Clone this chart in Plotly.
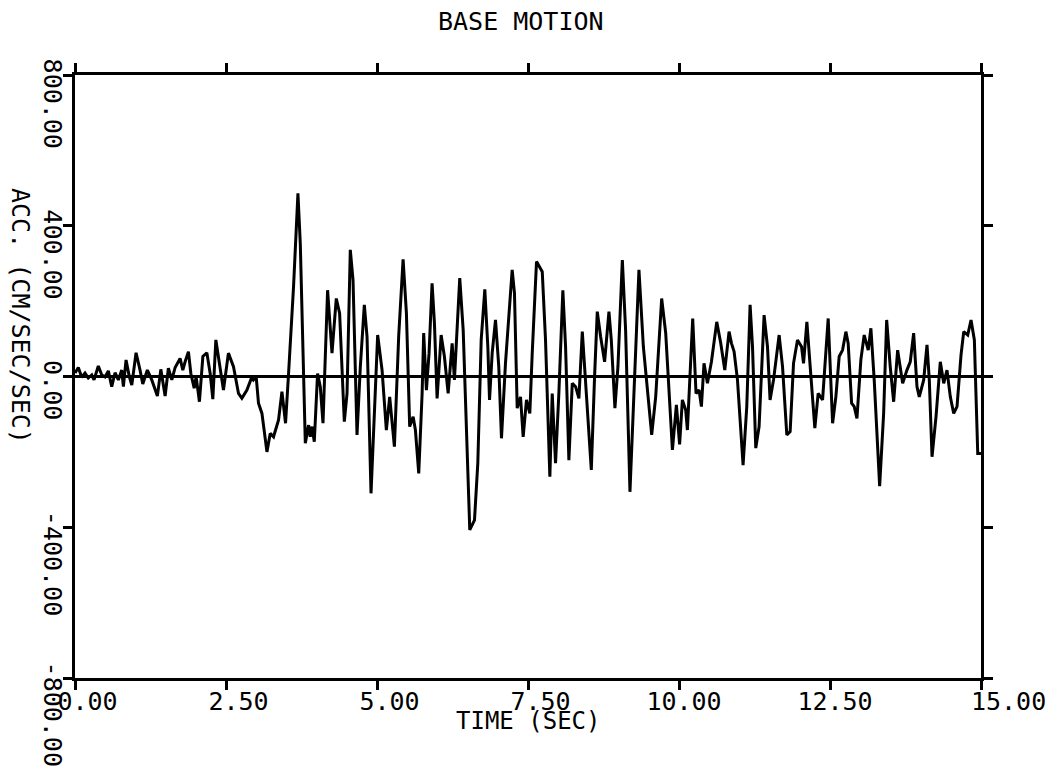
import plotly.graph_objects as go

# ---- data (time in s, acceleration in cm/s^2) ----
time_s = [
    0.000, 0.055, 0.111, 0.166, 0.220, 0.277, 0.315, 0.386, 0.443, 0.497,
    0.552, 0.608, 0.663, 0.718, 0.774, 0.801, 0.845, 0.900, 0.940, 1.011,
    1.077, 1.122, 1.198, 1.271, 1.364, 1.421, 1.492, 1.546, 1.603, 1.658,
    1.740, 1.785, 1.823, 1.878, 1.918, 1.973, 2.006, 2.060, 2.117, 2.183,
    2.238, 2.282, 2.332, 2.392, 2.458,
    2.540, 2.624, 2.707, 2.763, 2.846, 2.929, 2.955, 3.000, 3.038, 3.095,
    3.178, 3.232, 3.287, 3.332, 3.370, 3.426, 3.486, 3.536, 3.618, 3.691,
    3.730, 3.813, 3.867, 3.895, 3.924, 3.962, 4.016, 4.061, 4.106, 4.182,
    4.255, 4.326, 4.381, 4.459, 4.504, 4.558, 4.603, 4.669, 4.724, 4.790,
    4.835, 4.901, 4.956,
    5.011, 5.084, 5.155, 5.210, 5.288, 5.359, 5.432, 5.487, 5.541, 5.598,
    5.636, 5.691, 5.747, 5.773, 5.818, 5.862, 5.912, 5.951, 5.995, 6.062,
    6.116, 6.178, 6.244, 6.282, 6.370, 6.427, 6.493, 6.536, 6.614, 6.669,
    6.725, 6.785, 6.835, 6.863, 6.907, 6.962, 7.016, 7.061, 7.127, 7.238,
    7.276, 7.321, 7.376, 7.420, 7.475,
    7.530, 7.570, 7.641, 7.736, 7.790, 7.862, 7.901, 7.956, 8.011, 8.077,
    8.122, 8.177, 8.233, 8.288, 8.343, 8.399, 8.454, 8.548, 8.602, 8.647,
    8.702, 8.768, 8.840, 8.879, 8.939, 8.989, 9.062, 9.116, 9.188, 9.254,
    9.337, 9.410, 9.476, 9.548, 9.614, 9.713, 9.780, 9.834, 9.891, 9.957,
    10.010, 10.056, 10.111, 10.139, 10.182, 10.227, 10.282, 10.332, 10.371, 10.414,
    10.471, 10.537, 10.625, 10.691, 10.758, 10.829, 10.869, 10.912, 10.968, 11.061,
    11.122, 11.177, 11.217, 11.271, 11.326, 11.409, 11.465, 11.508, 11.565, 11.658,
    11.714, 11.785, 11.840, 11.896, 11.962, 12.029, 12.062, 12.117, 12.172, 12.249,
    12.304, 12.377,
    12.470, 12.543, 12.597, 12.652, 12.708, 12.763, 12.801, 12.858, 12.901, 12.946,
    13.011, 13.066, 13.133, 13.177, 13.232, 13.322, 13.388, 13.438, 13.497, 13.554,
    13.620, 13.663, 13.703, 13.774, 13.829, 13.885, 13.940, 13.978, 14.051, 14.106,
    14.144, 14.189, 14.255, 14.326, 14.383, 14.437, 14.492, 14.548, 14.603, 14.669,
    14.714, 14.780, 14.835, 14.890, 14.946, 15.000,
]
accel = [
    9, 24, -2, 9, -4, 4, -9, 28, 4, -1,
    15, -27, 10, -9, 17, -27, 44, -1, -23, 63,
    17, -20, 17, -9, -52, 19, -52, 22, -9, 24,
    48, 17, 39, 66, 8, -31, -1, -67, 53, 63,
    8, -60, 97, 35, -36,
    62, 26, -45, -58, -36, -1, -9, -1, -71, -98,
    -200, -151, -160, -133, -115, -40, -124, 8, 238, 486,
    353, -177, -129, -160, -133, -173, 8, -27, -124, 229,
    62, 207, 168, -120, -45, 336, 256, -155, 26, 190,
    106, -310, -98,
    110, 17, -142, -54, -186, 106, 311, 168, -133, -107,
    -142, -257, -45, 115, -36, 62, 247, 141, -58, 110,
    53, -45, 88, -9, 261, 123, -230, -407, -381, -230,
    97, 231, 79, -62, 62, 150, 26, -164, 35, 283,
    221, -84, -54, -160, -62,
    -98, 62, 305, 278, 97, -266, -45, -230, -45, 229,
    79, -222, -18, -27, -58, 119, -9, -248, -1, 172,
    106, 39, 172, 97, -84, 26, 309, 123, -306, -45,
    283, 79, -27, -155, -54, 207, 115, -54, -195, -75,
    -180, -62, -89, -142, 26, 154, -45, -36, -80, 35,
    -18, 39, 145, 88, 17, 119, 88, 66, -9, -235,
    -80, 190, 79, -190, -133, 163, 79, -62, -9, 110,
    26, -155, -146, 35, 97, 79, 35, 145, 26, -137,
    -45, -62,
    154, -124, -54, 53, 70, 119, 88, -71, -80, -111,
    44, 110, 70, 128, -9, -291, -98, 150, 26, -67,
    70, 26, -18, 17, 39, 115, -27, -54, -9, 84,
    -9, -213, -107, 39, -18, 17, -54, -98, -80, 57,
    119, 110, 150, 97, -204, -204,
]

x_tick_vals = [0, 2.5, 5, 7.5, 10, 12.5, 15]
x_tick_labels = ["0.00", "2.50", "5.00", "7.50", "10.00", "12.50", "15.00"]
y_tick_vals = [-800, -400, 0, 400, 800]
y_tick_labels = ["-800.00", "-400.00", "0.00", "400.00", "800.00"]

title_text = "BASE MOTION"
x_title = "TIME (SEC)"
y_title = "ACC. (CM/SEC/SEC)"

NB = "\u00a0"
FONT = "DejaVu Sans Mono"


def pad_x(lbl):
    # nudge labels to the right like the plotter output
    if lbl == "15.00":
        return NB * 3 + lbl
    if len(lbl) == 4:
        return NB + lbl
    return lbl


def pad_y(lbl):
    return lbl + NB * (7 - len(lbl))


fig = go.Figure()
fig.add_trace(go.Scatter(
    x=time_s, y=accel, mode="lines",
    line=dict(color="black", width=3),
    showlegend=False, hoverinfo="skip",
))

fig.update_layout(
    width=1045, height=772,
    margin=dict(l=75, r=64, t=75, b=94),
    paper_bgcolor="white", plot_bgcolor="white",
    font=dict(family=FONT, size=25, color="black"),
    showlegend=False,
    xaxis=dict(
        range=[0, 15], tickmode="array", tickvals=x_tick_vals,
        ticktext=[pad_x(t) for t in x_tick_labels],
        showgrid=False, zeroline=False,
        showline=True, linecolor="black", linewidth=3, mirror="ticks",
        ticks="outside", ticklen=9, tickwidth=2.5, tickcolor="black",
        ticklabelshift=5, ticklabelstandoff=-10, ticklabeloverflow="allow",
        tickfont=dict(family=FONT, size=25, color="black"),
        automargin=False,
    ),
    yaxis=dict(
        range=[-800, 800], tickmode="array", tickvals=y_tick_vals,
        ticktext=[pad_y(t) for t in y_tick_labels],
        tickangle=90,
        showgrid=False, zeroline=True, zerolinecolor="black", zerolinewidth=3,
        showline=True, linecolor="black", linewidth=3, mirror="ticks",
        ticks="outside", ticklen=9, tickwidth=2.5, tickcolor="black",
        ticklabelshift=40, ticklabelstandoff=-11, ticklabeloverflow="allow",
        tickfont=dict(family=FONT, size=25, color="black"),
        automargin=False,
    ),
    annotations=[
        dict(text=title_text, xref="paper", yref="paper", x=0.4923, y=1.0879,
             xanchor="center", yanchor="middle", showarrow=False,
             font=dict(family=FONT, size=25, color="black")),
        dict(text=x_title, xref="paper", yref="paper", x=0.5, y=-0.0713,
             xanchor="center", yanchor="middle", showarrow=False,
             font=dict(family=FONT, size=24, color="black")),
        dict(text=y_title, xref="paper", yref="paper", x=-0.0596, y=0.6003,
             xanchor="center", yanchor="middle", showarrow=False, textangle=90,
             font=dict(family=FONT, size=25, color="black")),
    ],
)

fig.write_html("out.html")
